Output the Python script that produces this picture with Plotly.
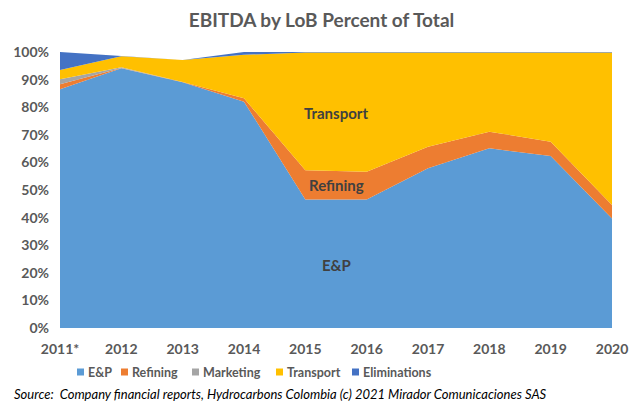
import plotly.graph_objects as go

years = ["2011*", "2012", "2013", "2014", "2015", "2016", "2017", "2018", "2019", "2020"]
ep = [86.5, 94.1, 89.0, 82.0, 46.6, 46.6, 57.9, 65.1, 62.3, 39.7]
refining = [1.8, 0.1, 0.1, 1.2, 10.6, 10.0, 7.8, 6.0, 5.2, 4.9]
marketing = [1.8, 0.3, 0.0, 0.0, 0.0, 0.0, 0.0, 0.0, 0.0, 0.0]
transport = [3.4, 4.0, 8.0, 15.8, 42.6, 43.2, 34.1, 28.7, 32.3, 55.2]
eliminations = [6.5, 0.0, 0.0, 1.0, 0.2, 0.2, 0.2, 0.2, 0.2, 0.2]

names = ["E&P", "Refining", "Marketing", "Transport", "Eliminations"]
values = [ep, refining, marketing, transport, eliminations]
colors = ["#5B9BD5", "#ED7D31", "#A5A5A5", "#FFC000", "#4472C4"]

fig = go.Figure()
for name, vals, col in zip(names, values, colors):
    fig.add_trace(go.Scatter(
        x=years, y=vals, name=name, mode="lines", stackgroup="one",
        line=dict(width=0, color=col), fillcolor=col, showlegend=False,
    ))

font_col = "#595959"
L, R, T, B, W, H = 60, 31, 52, 75, 643, 403
pw, ph = W - L - R, H - T - B
fig.update_layout(
    width=W, height=H,
    margin=dict(l=L, r=R, t=T, b=B),
    paper_bgcolor="white", plot_bgcolor="white",
    font=dict(family="Lato, Carlito, Calibri, sans-serif", color=font_col, size=13),
    title=dict(text="<b>EBITDA by LoB Percent of Total</b>", x=0.5, xanchor="center",
               y=0.95, yanchor="middle", font=dict(size=19, color=font_col)),
    showlegend=False,
    xaxis=dict(type="category", range=[0, 9], showgrid=False, zeroline=False,
               showline=False, ticks="", ticklabelstandoff=11,
               tickfont=dict(size=14, weight="bold", color=font_col)),
    yaxis=dict(range=[0, 100], dtick=10, ticksuffix="%", showgrid=True,
               gridcolor="#D9D9D9", zeroline=False, showline=False, ticks="",
               ticklabelstandoff=10,
               tickfont=dict(size=14, weight="bold", color=font_col)),
)

labels = [("Transport", 4.5, 78), ("Refining", 4.5, 51.8), ("E&P", 4.5, 22.8)]
for txt, xx, yy in labels:
    fig.add_annotation(x=xx, y=yy, text="<b>" + txt + "</b>", showarrow=False,
                       font=dict(size=15, color="#404040"))

# custom legend (Excel-like compact layout)
legend_px = [77, 121, 192, 276, 352]
legend_ypx = 372
for name, col, px in zip(names, colors, legend_px):
    fig.add_shape(type="rect", xref="paper", yref="paper",
                  x0=(px - L) / pw, x1=(px + 7 - L) / pw,
                  y0=(H - B - legend_ypx - 3.5) / ph, y1=(H - B - legend_ypx + 3.5) / ph,
                  fillcolor=col, line=dict(width=0))
    fig.add_annotation(xref="paper", yref="paper", x=(px + 9 - L) / pw,
                       y=(H - B - legend_ypx) / ph, xanchor="left", yanchor="middle",
                       text="<b>" + name + "</b>", showarrow=False,
                       font=dict(size=12.5, color=font_col))

fig.add_annotation(xref="paper", yref="paper", x=-0.087, y=-0.24, xanchor="left",
                   yanchor="middle", showarrow=False,
                   text="<i>Source:  Company financial reports, Hydrocarbons Colombia (c) 2021 Mirador Comunicaciones SAS</i>",
                   font=dict(size=13, color="#000000"))

fig.write_html("out.html")
